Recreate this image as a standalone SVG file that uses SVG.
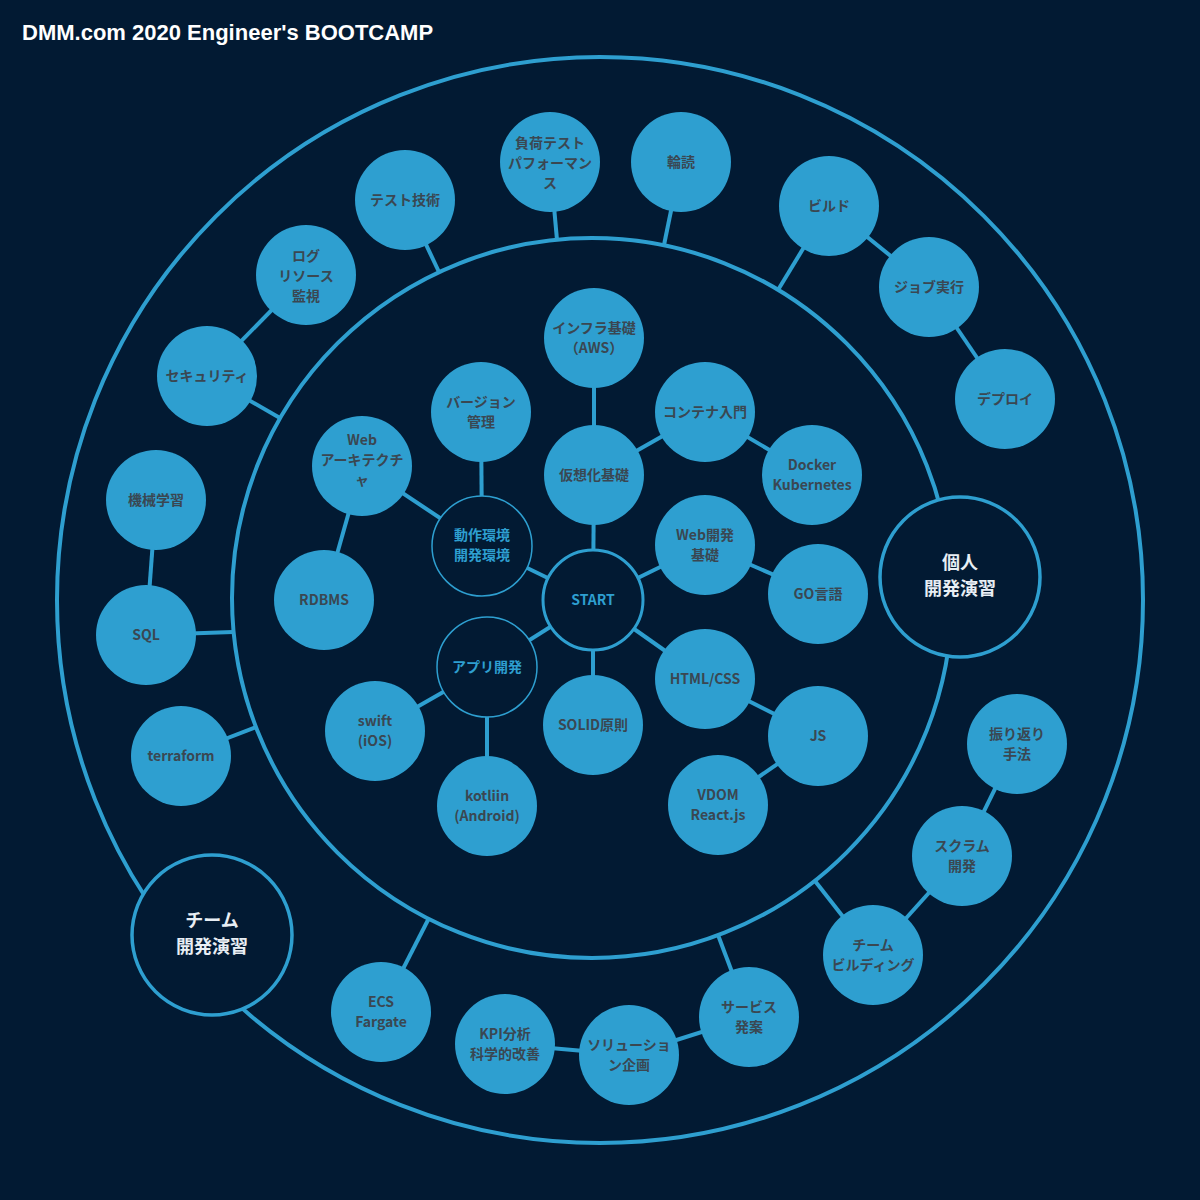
<svg xmlns="http://www.w3.org/2000/svg" width="1200" height="1200" viewBox="0 0 1200 1200">
<style>
.bg{fill:#021a33}
.ring{fill:none;stroke:#2e9fd0;stroke-width:4}
.c line{stroke:#2e9fd0;stroke-width:4}
.n circle{fill:#2e9fd0}
.n text{fill:#3a4752;font-family:"Noto Sans CJK JP","Liberation Sans",sans-serif;font-weight:bold;font-size:14px;text-anchor:middle}
.h circle{fill:#021a33;stroke:#2e9fd0;stroke-width:3}
.h text{fill:#2e9fd0;font-family:"Noto Sans CJK JP","Liberation Sans",sans-serif;font-weight:bold;font-size:14px;text-anchor:middle}
.t circle{fill:#021a33;stroke:#2e9fd0;stroke-width:1.5}
.b circle{fill:#021a33;stroke:#2e9fd0;stroke-width:3.5}
.b text{fill:#e8eef4;font-family:"Noto Sans CJK JP","Liberation Sans",sans-serif;font-weight:bold;font-size:18px;text-anchor:middle}
</style>
<rect class="bg" width="1200" height="1200"/>
<text x="22" y="40" fill="#ffffff" font-family="Liberation Sans,Arial,sans-serif" font-weight="bold" font-size="22">DMM.com 2020 Engineer's BOOTCAMP</text>
<circle class="ring" cx="600" cy="600" r="543"/>
<circle class="ring" cx="592" cy="598" r="360"/>
<g class="c" id="connectors">
<line x1="593" y1="600" x2="594" y2="475"/>
<line x1="593" y1="600" x2="705" y2="545"/>
<line x1="593" y1="600" x2="705" y2="679"/>
<line x1="593" y1="600" x2="593" y2="725"/>
<line x1="593" y1="600" x2="482" y2="546"/>
<line x1="593" y1="600" x2="487" y2="667"/>
<line x1="594" y1="475" x2="594" y2="338"/>
<line x1="594" y1="475" x2="705" y2="412"/>
<line x1="705" y1="412" x2="812" y2="475"/>
<line x1="705" y1="545" x2="818" y2="594"/>
<line x1="705" y1="679" x2="818" y2="736"/>
<line x1="818" y1="736" x2="718" y2="805"/>
<line x1="482" y1="546" x2="481" y2="412"/>
<line x1="482" y1="546" x2="362" y2="466"/>
<line x1="362" y1="466" x2="324" y2="600"/>
<line x1="487" y1="667" x2="375" y2="731"/>
<line x1="487" y1="667" x2="487" y2="806"/>
<line x1="405" y1="200" x2="439" y2="272"/>
<line x1="550" y1="162" x2="557" y2="240"/>
<line x1="681" y1="162" x2="664" y2="245"/>
<line x1="829" y1="206" x2="778" y2="290"/>
<line x1="829" y1="206" x2="929" y2="287"/>
<line x1="929" y1="287" x2="1005" y2="399"/>
<line x1="306" y1="275" x2="207" y2="376"/>
<line x1="207" y1="376" x2="280" y2="418"/>
<line x1="156" y1="500" x2="146" y2="635"/>
<line x1="146" y1="635" x2="233" y2="632"/>
<line x1="181" y1="756" x2="256" y2="727"/>
<line x1="1017" y1="744" x2="962" y2="856"/>
<line x1="962" y1="856" x2="873" y2="955"/>
<line x1="873" y1="955" x2="815" y2="881"/>
<line x1="749" y1="1017" x2="718" y2="935"/>
<line x1="749" y1="1017" x2="629" y2="1055"/>
<line x1="629" y1="1055" x2="505" y2="1044"/>
<line x1="381" y1="1012" x2="429" y2="918"/>
</g>
<g id="start" class="h"><circle cx="593" cy="600" r="50"/><text x="593" y="605">START</text></g>
<g id="dousa" class="h t"><circle cx="482" cy="546" r="50"/><text x="482" y="540">動作環境</text><text x="482" y="560">開発環境</text></g>
<g id="app" class="h t"><circle cx="487" cy="667" r="50"/><text x="487" y="672">アプリ開発</text></g>
<g id="kojin" class="b"><circle cx="960" cy="577" r="80"/><text x="960" y="569">個人</text><text x="960" y="595">開発演習</text></g>
<g id="team" class="b"><circle cx="212" cy="935" r="80"/><text x="212" y="927">チーム</text><text x="212" y="953">開発演習</text></g>
<g class="n">
<g id="infra"><circle cx="594" cy="338" r="50"/><text x="594" y="333">インフラ基礎</text><text x="594" y="353">（AWS）</text></g>
<g id="kaso"><circle cx="594" cy="475" r="50"/><text x="594" y="480">仮想化基礎</text></g>
<g id="container"><circle cx="705" cy="412" r="50"/><text x="705" y="417">コンテナ入門</text></g>
<g id="docker"><circle cx="812" cy="475" r="50"/><text x="812" y="470">Docker</text><text x="812" y="490">Kubernetes</text></g>
<g id="webdev"><circle cx="705" cy="545" r="50"/><text x="705" y="540">Web開発</text><text x="705" y="560">基礎</text></g>
<g id="go"><circle cx="818" cy="594" r="50"/><text x="818" y="599">GO言語</text></g>
<g id="html"><circle cx="705" cy="679" r="50"/><text x="705" y="684">HTML/CSS</text></g>
<g id="js"><circle cx="818" cy="736" r="50"/><text x="818" y="741">JS</text></g>
<g id="vdom"><circle cx="718" cy="805" r="50"/><text x="718" y="800">VDOM</text><text x="718" y="820">React.js</text></g>
<g id="solid"><circle cx="593" cy="725" r="50"/><text x="593" y="730">SOLID原則</text></g>
<g id="version"><circle cx="481" cy="412" r="50"/><text x="481" y="407">バージョン</text><text x="481" y="427">管理</text></g>
<g id="webarch"><circle cx="362" cy="466" r="50"/><text x="362" y="445">Web</text><text x="362" y="465">アーキテクチ</text><text x="362" y="485">ャ</text></g>
<g id="rdbms"><circle cx="324" cy="600" r="50"/><text x="324" y="605">RDBMS</text></g>
<g id="swift"><circle cx="375" cy="731" r="50"/><text x="375" y="726">swift</text><text x="375" y="746">(iOS)</text></g>
<g id="kotlin"><circle cx="487" cy="806" r="50"/><text x="487" y="801">kotliin</text><text x="487" y="821">(Android)</text></g>
<g id="test"><circle cx="405" cy="200" r="50"/><text x="405" y="205">テスト技術</text></g>
<g id="load"><circle cx="550" cy="162" r="50"/><text x="550" y="148">負荷テスト</text><text x="550" y="168">パフォーマン</text><text x="550" y="188">ス</text></g>
<g id="rindoku"><circle cx="681" cy="162" r="50"/><text x="681" y="167">輪読</text></g>
<g id="build"><circle cx="829" cy="206" r="50"/><text x="829" y="211">ビルド</text></g>
<g id="job"><circle cx="929" cy="287" r="50"/><text x="929" y="292">ジョブ実行</text></g>
<g id="deploy"><circle cx="1005" cy="399" r="50"/><text x="1005" y="404">デプロイ</text></g>
<g id="log"><circle cx="306" cy="275" r="50"/><text x="306" y="261">ログ</text><text x="306" y="281">リソース</text><text x="306" y="301">監視</text></g>
<g id="security"><circle cx="207" cy="376" r="50"/><text x="207" y="381">セキュリティ</text></g>
<g id="ml"><circle cx="156" cy="500" r="50"/><text x="156" y="505">機械学習</text></g>
<g id="sql"><circle cx="146" cy="635" r="50"/><text x="146" y="640">SQL</text></g>
<g id="terraform"><circle cx="181" cy="756" r="50"/><text x="181" y="761">terraform</text></g>
<g id="furikaeri"><circle cx="1017" cy="744" r="50"/><text x="1017" y="739">振り返り</text><text x="1017" y="759">手法</text></g>
<g id="scrum"><circle cx="962" cy="856" r="50"/><text x="962" y="851">スクラム</text><text x="962" y="871">開発</text></g>
<g id="teambuild"><circle cx="873" cy="955" r="50"/><text x="873" y="950">チーム</text><text x="873" y="970">ビルディング</text></g>
<g id="service"><circle cx="749" cy="1017" r="50"/><text x="749" y="1012">サービス</text><text x="749" y="1032">発案</text></g>
<g id="solution"><circle cx="629" cy="1055" r="50"/><text x="629" y="1050">ソリューショ</text><text x="629" y="1070">ン企画</text></g>
<g id="kpi"><circle cx="505" cy="1044" r="50"/><text x="505" y="1039">KPI分析</text><text x="505" y="1059">科学的改善</text></g>
<g id="ecs"><circle cx="381" cy="1012" r="50"/><text x="381" y="1007">ECS</text><text x="381" y="1027">Fargate</text></g>
</g>
</svg>
